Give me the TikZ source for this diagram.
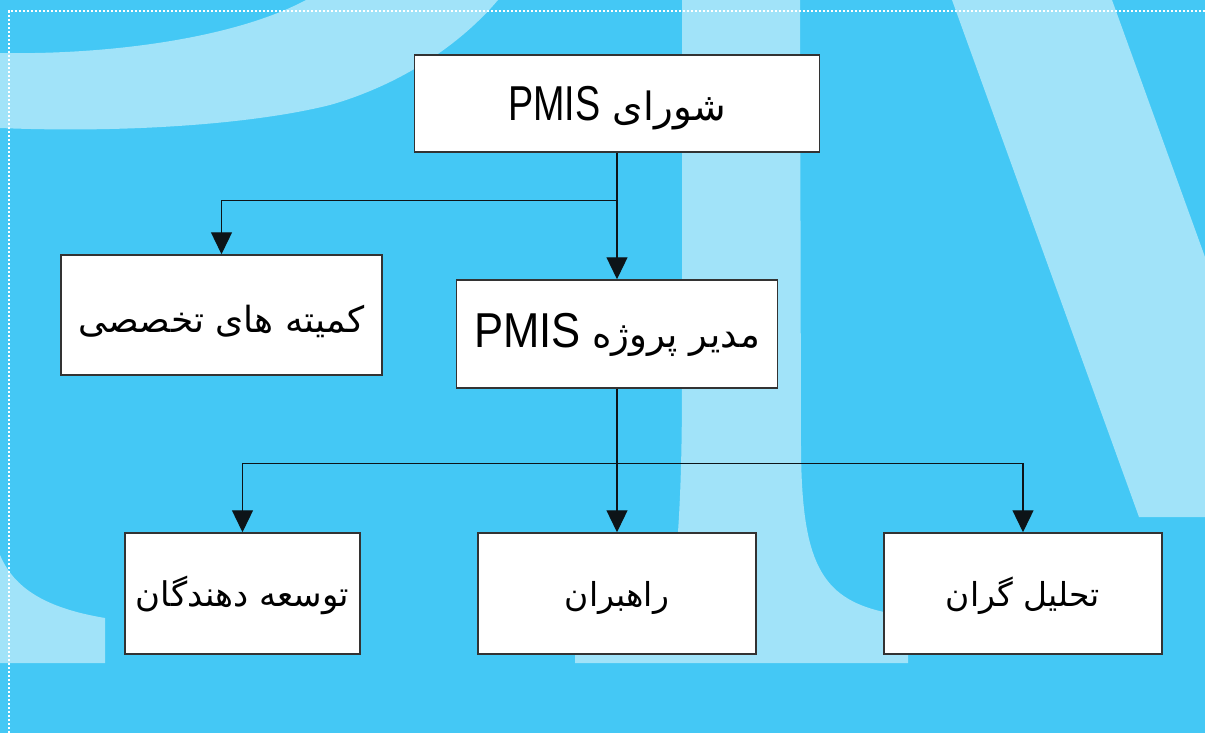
\documentclass[tikz,border=0pt]{standalone}
\usepackage{fontspec}
\usetikzlibrary{arrows.meta}
\newfontfamily\arabicfont[Script=Arabic]{DejaVu Sans}
\newfontfamily\latinfont{Liberation Sans}
\TeXXeTstate=1
\definecolor{bgblue}{HTML}{44C8F5}
\definecolor{lightblue}{HTML}{A1E3F9}
\definecolor{boxline}{HTML}{333333}
\definecolor{conline}{HTML}{0D1418}
\tikzset{
  orgbox/.style={draw=boxline, line width=1.5pt, fill=white, inner sep=0pt, align=center},
  arr/.style={draw=conline, line width=1.3pt, -{Triangle[width=21pt,length=22pt]}},
  bgshape/.style={fill=lightblue, draw=none},
  dotline/.style={draw=white, line width=2pt, dash pattern=on 2pt off 2pt}
}
\newcommand{\ar}[2]{{\arabicfont\fontsize{#1}{#1}\selectfont #2}}
\newcommand{\la}[2]{\scalebox{#1}[1]{\latinfont\fontsize{49}{55}\selectfont #2}}
\begin{document}
\begin{tikzpicture}[x=1pt,y=-1pt]
% background
\fill[bgblue] (0,0) rectangle (1205,733);
\useasboundingbox (0,0) rectangle (1205,733);
% light background shapes
\path[bgshape] (0,53) .. controls (110,55) and (235,38) .. (306,0) -- (498,0)
  .. controls (460,45) and (400,85) .. (330,105)
  .. controls (250,125) and (120,133) .. (0,128) -- cycle;
\path[bgshape] (682,0) -- (800,0) -- (801,450)
  .. controls (802,560) and (820,598) .. (884,612) -- (908,616) -- (908,663)
  -- (575,663) -- (575,640) -- (676,600) -- (676,560)
  .. controls (679,520) and (682,480) .. (682,380) -- cycle;
\path[bgshape] (952,0) -- (1112,0) -- (1205,257) -- (1205,517) -- (1139,517) -- cycle;
\path[bgshape] (0,555) .. controls (14,588) and (45,608) .. (105,618) -- (105,663) -- (0,663) -- cycle;
% dotted frame
\coordinate (fa) at (8.5,733);
\coordinate (fb) at (8.5,11.5);
\coordinate (fc) at (1205,11.5);
\draw[dotline] (fa) -- (fb) -- (fc);
% boxes
\node[orgbox, minimum width=405pt, minimum height=97pt, text height=35pt, text depth=0pt] (council) at (617,103.5)
  {\ar{39}{\beginR شورای \beginL\la{0.77}{PMIS}\endL\endR}};
\node[orgbox, minimum width=321pt, minimum height=120pt, text height=34pt, text depth=0pt] (comm) at (221.5,315)
  {\ar{36}{\beginR کمیته های تخصصی\endR}};
\node[orgbox, minimum width=321pt, minimum height=108pt, text height=27pt, text depth=0pt] (mgr) at (617,334)
  {\ar{37}{\beginR مدیر پروژه \beginL\la{0.89}{PMIS}\endL\endR}};
\node[orgbox, minimum width=235pt, minimum height=121pt, text height=30pt, text depth=4pt] (dev) at (242.5,593.5)
  {\ar{34}{\beginR توسعه دهندگان\endR}};
\node[orgbox, minimum width=278pt, minimum height=121pt, text height=30pt, text depth=4pt] (lead) at (617,593.5)
  {\ar{33}{\beginR راهبران\endR}};
\node[orgbox, minimum width=278pt, minimum height=121pt, text height=30pt, text depth=4pt] (ana) at (1023,593.5)
  {\ar{33}{\beginR تحلیل گران\endR}};
% connectors
\draw[arr] (council.south) -- ++(0,48) -| (comm.north);
\draw[arr] (council.south) -- (mgr.north);
\draw[arr] (mgr.south) -- ++(0,75) -| (dev.north);
\draw[arr] (mgr.south) -- (lead.north);
\draw[arr] (mgr.south) -- ++(0,75) -| (ana.north);
\end{tikzpicture}
\end{document}
